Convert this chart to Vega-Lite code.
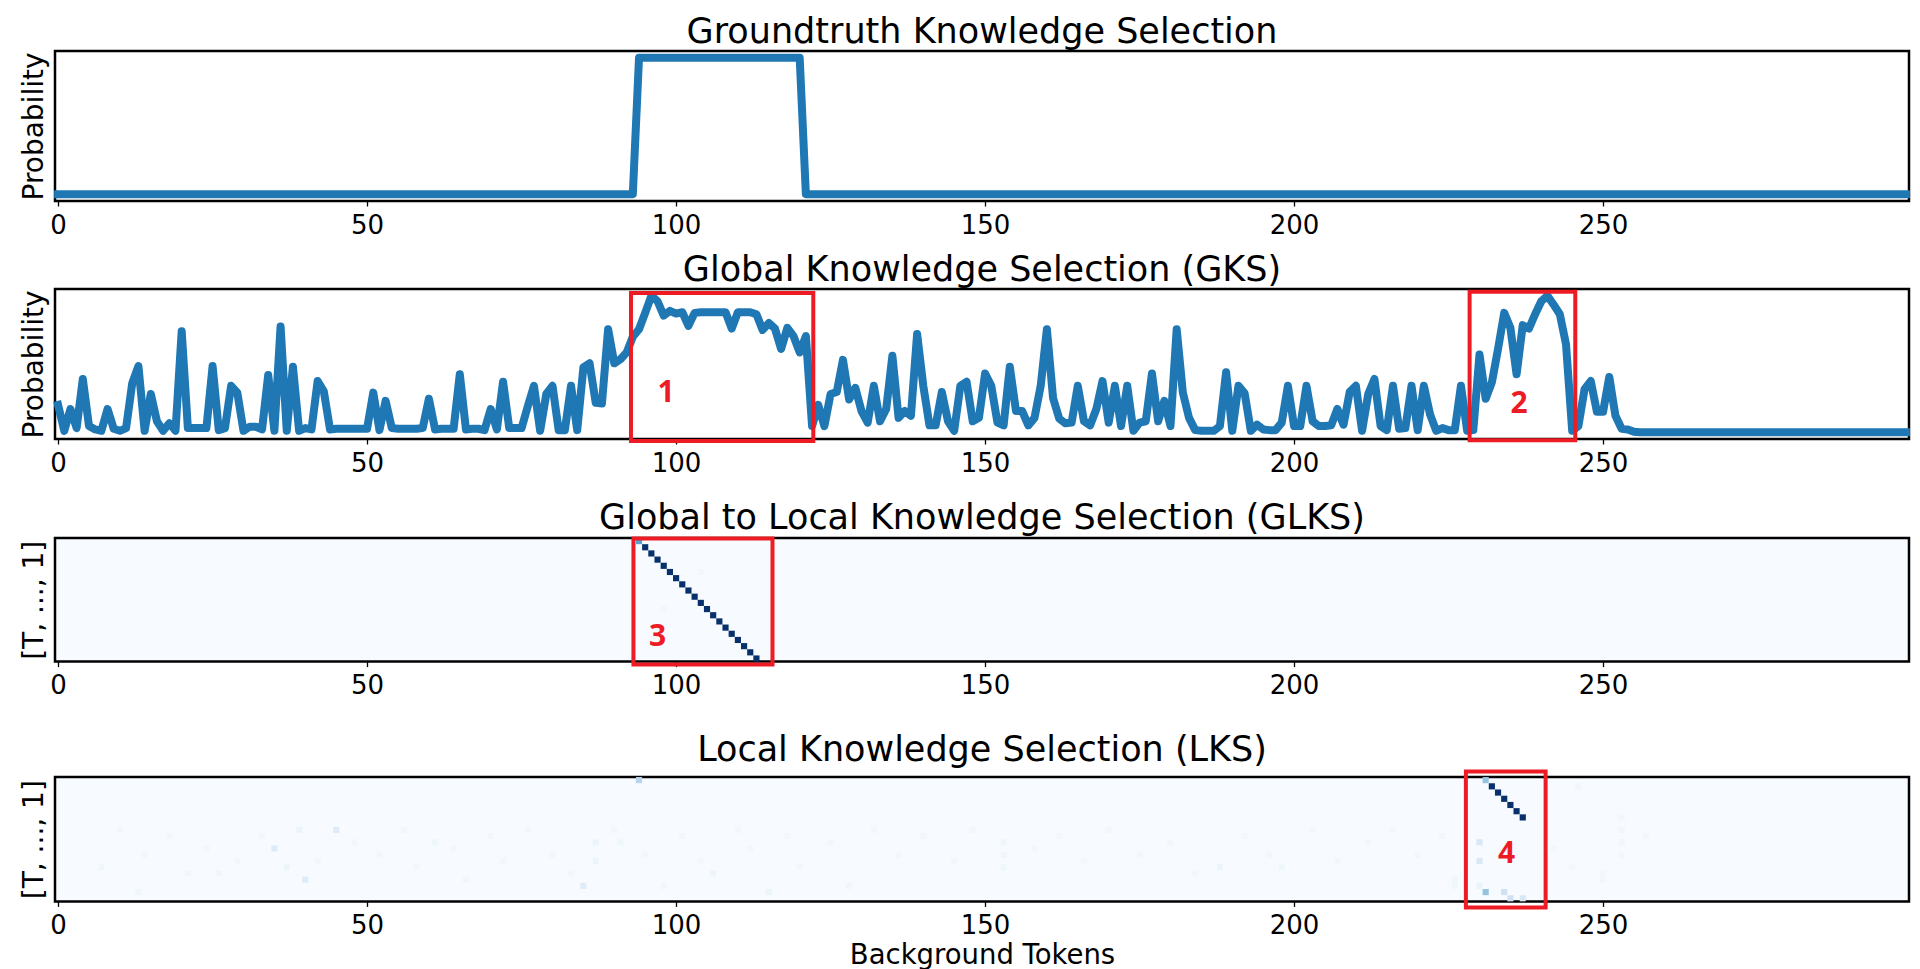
{
  "$schema": "https://vega.github.io/schema/vega-lite/v6.json",
  "padding": {"left": 18, "top": 13, "right": 14, "bottom": 0},
  "spacing": 11,
  "config": {
    "font": "DejaVu Sans",
    "view": {"stroke": "#000000", "strokeWidth": 2.5},
    "title": {"fontSize": 35, "fontWeight": "normal", "color": "#000000", "baseline": "alphabetic", "offset": 0, "dy": 3, "frame": "group", "anchor": "middle", "font": "DejaVu Sans"},
    "axisX": {"format": "d", "labelFontSize": 26, "labelColor": "#000000", "labelFlush": false, "labelPadding": 6, "tickSize": 5, "tickWidth": 1.3, "tickColor": "#000000", "domain": false, "grid": false, "titleFontSize": 27.5, "titleFontWeight": "normal", "titleColor": "#000000", "titlePadding": 0, "labelFont": "DejaVu Sans", "titleFont": "DejaVu Sans"},
    "axisY": {"labels": false, "ticks": false, "domain": false, "grid": false, "titleFontSize": 28, "titleFontWeight": "normal", "titleColor": "#000000", "titlePadding": 7, "titleFont": "DejaVu Sans"}
  },
  "datasets": {
    "gt": [{"t":0,"p":0},{"t":93,"p":0},{"t":94,"p":1},{"t":120,"p":1},{"t":121,"p":0},{"t":299,"p":0}],
    "gks": [
      {"t":0,"p":0.20},{"t":1,"p":0.01},{"t":2,"p":0.17},{"t":3,"p":0.03},{"t":4,"p":0.39},{"t":5,"p":0.045},{"t":6,"p":0.02},{"t":7,"p":0.01},{"t":8,"p":0.17},{"t":9,"p":0.025},
      {"t":10,"p":0.01},{"t":11,"p":0.03},{"t":12,"p":0.36},{"t":13,"p":0.485},{"t":14,"p":0.01},{"t":15,"p":0.28},{"t":16,"p":0.08},{"t":17,"p":0.01},{"t":18,"p":0.065},{"t":19,"p":0.01},
      {"t":20,"p":0.74},{"t":21,"p":0.03},{"t":22,"p":0.03},{"t":23,"p":0.03},{"t":24,"p":0.03},{"t":25,"p":0.485},{"t":26,"p":0.015},{"t":27,"p":0.03},{"t":28,"p":0.34},{"t":29,"p":0.29},
      {"t":30,"p":0.01},{"t":31,"p":0.04},{"t":32,"p":0.04},{"t":33,"p":0.02},{"t":34,"p":0.42},{"t":35,"p":0.01},{"t":36,"p":0.775},{"t":37,"p":0.01},{"t":38,"p":0.48},{"t":39,"p":0.01},
      {"t":40,"p":0.03},{"t":41,"p":0.02},{"t":42,"p":0.375},{"t":43,"p":0.30},{"t":44,"p":0.02},{"t":45,"p":0.025},{"t":46,"p":0.025},{"t":47,"p":0.025},{"t":48,"p":0.025},{"t":49,"p":0.025},
      {"t":50,"p":0.025},{"t":51,"p":0.29},{"t":52,"p":0.015},{"t":53,"p":0.23},{"t":54,"p":0.03},{"t":55,"p":0.025},{"t":56,"p":0.025},{"t":57,"p":0.025},{"t":58,"p":0.025},{"t":59,"p":0.03},
      {"t":60,"p":0.245},{"t":61,"p":0.02},{"t":62,"p":0.025},{"t":63,"p":0.025},{"t":64,"p":0.025},{"t":65,"p":0.425},{"t":66,"p":0.02},{"t":67,"p":0.025},{"t":68,"p":0.025},{"t":69,"p":0.015},
      {"t":70,"p":0.17},{"t":71,"p":0.02},{"t":72,"p":0.37},{"t":73,"p":0.03},{"t":74,"p":0.03},{"t":75,"p":0.03},{"t":76,"p":0.19},{"t":77,"p":0.34},{"t":78,"p":0.01},{"t":79,"p":0.28},
      {"t":80,"p":0.34},{"t":81,"p":0.015},{"t":82,"p":0.015},{"t":83,"p":0.34},{"t":84,"p":0.015},{"t":85,"p":0.475},{"t":86,"p":0.505},{"t":87,"p":0.215},{"t":88,"p":0.21},{"t":89,"p":0.755},
      {"t":90,"p":0.505},{"t":91,"p":0.535},{"t":92,"p":0.585},{"t":93,"p":0.70},{"t":94,"p":0.755},{"t":95,"p":0.875},{"t":96,"p":1.0},{"t":97,"p":0.96},{"t":98,"p":0.855},{"t":99,"p":0.89},
      {"t":100,"p":0.87},{"t":101,"p":0.88},{"t":102,"p":0.78},{"t":103,"p":0.875},{"t":104,"p":0.88},{"t":105,"p":0.88},{"t":106,"p":0.88},{"t":107,"p":0.88},{"t":108,"p":0.88},{"t":109,"p":0.76},
      {"t":110,"p":0.88},{"t":111,"p":0.88},{"t":112,"p":0.88},{"t":113,"p":0.865},{"t":114,"p":0.75},{"t":115,"p":0.80},{"t":116,"p":0.76},{"t":117,"p":0.61},{"t":118,"p":0.765},{"t":119,"p":0.705},
      {"t":120,"p":0.585},{"t":121,"p":0.705},{"t":122,"p":0.045},{"t":123,"p":0.20},{"t":124,"p":0.045},{"t":125,"p":0.28},{"t":126,"p":0.295},{"t":127,"p":0.53},{"t":128,"p":0.24},{"t":129,"p":0.325},
      {"t":130,"p":0.155},{"t":131,"p":0.07},{"t":132,"p":0.34},{"t":133,"p":0.08},{"t":134,"p":0.17},{"t":135,"p":0.56},{"t":136,"p":0.105},{"t":137,"p":0.155},{"t":138,"p":0.12},{"t":139,"p":0.72},
      {"t":140,"p":0.34},{"t":141,"p":0.05},{"t":142,"p":0.05},{"t":143,"p":0.295},{"t":144,"p":0.08},{"t":145,"p":0.01},{"t":146,"p":0.34},{"t":147,"p":0.37},{"t":148,"p":0.08},{"t":149,"p":0.105},
      {"t":150,"p":0.43},{"t":151,"p":0.34},{"t":152,"p":0.07},{"t":153,"p":0.05},{"t":154,"p":0.48},{"t":155,"p":0.155},{"t":156,"p":0.155},{"t":157,"p":0.05},{"t":158,"p":0.105},{"t":159,"p":0.34},
      {"t":160,"p":0.755},{"t":161,"p":0.25},{"t":162,"p":0.10},{"t":163,"p":0.065},{"t":164,"p":0.07},{"t":165,"p":0.34},{"t":166,"p":0.08},{"t":167,"p":0.05},{"t":168,"p":0.17},{"t":169,"p":0.375},
      {"t":170,"p":0.07},{"t":171,"p":0.34},{"t":172,"p":0.045},{"t":173,"p":0.34},{"t":174,"p":0.01},{"t":175,"p":0.07},{"t":176,"p":0.08},{"t":177,"p":0.43},{"t":178,"p":0.08},{"t":179,"p":0.23},
      {"t":180,"p":0.045},{"t":181,"p":0.755},{"t":182,"p":0.29},{"t":183,"p":0.105},{"t":184,"p":0.015},{"t":185,"p":0.01},{"t":186,"p":0.01},{"t":187,"p":0.01},{"t":188,"p":0.045},{"t":189,"p":0.44},
      {"t":190,"p":0.01},{"t":191,"p":0.34},{"t":192,"p":0.285},{"t":193,"p":0.01},{"t":194,"p":0.055},{"t":195,"p":0.02},{"t":196,"p":0.015},{"t":197,"p":0.015},{"t":198,"p":0.07},{"t":199,"p":0.34},
      {"t":200,"p":0.045},{"t":201,"p":0.045},{"t":202,"p":0.34},{"t":203,"p":0.08},{"t":204,"p":0.045},{"t":205,"p":0.045},{"t":206,"p":0.05},{"t":207,"p":0.17},{"t":208,"p":0.055},{"t":209,"p":0.295},
      {"t":210,"p":0.34},{"t":211,"p":0.01},{"t":212,"p":0.28},{"t":213,"p":0.39},{"t":214,"p":0.045},{"t":215,"p":0.015},{"t":216,"p":0.34},{"t":217,"p":0.025},{"t":218,"p":0.03},{"t":219,"p":0.34},
      {"t":220,"p":0.015},{"t":221,"p":0.34},{"t":222,"p":0.13},{"t":223,"p":0.01},{"t":224,"p":0.03},{"t":225,"p":0.015},{"t":226,"p":0.015},{"t":227,"p":0.34},{"t":228,"p":0.01},{"t":229,"p":0.015},
      {"t":230,"p":0.57},{"t":231,"p":0.245},{"t":232,"p":0.365},{"t":233,"p":0.61},{"t":234,"p":0.875},{"t":235,"p":0.765},{"t":236,"p":0.425},{"t":237,"p":0.785},{"t":238,"p":0.76},{"t":239,"p":0.865},
      {"t":240,"p":0.96},{"t":241,"p":1.0},{"t":242,"p":0.935},{"t":243,"p":0.865},{"t":244,"p":0.645},{"t":245,"p":0.01},{"t":246,"p":0.045},{"t":247,"p":0.315},{"t":248,"p":0.375},{"t":249,"p":0.15},
      {"t":250,"p":0.15},{"t":251,"p":0.405},{"t":252,"p":0.12},{"t":253,"p":0.025},{"t":254,"p":0.02},{"t":255,"p":0.003},{"t":256,"p":0.0},{"t":260,"p":0.0},{"t":270,"p":0.0},{"t":280,"p":0.0},{"t":290,"p":0.0},{"t":299,"p":0.0}
    ],
    "glks": [
      {"c":94,"r":0,"v":0.55},{"c":95,"r":1,"v":1},{"c":96,"r":2,"v":1},{"c":97,"r":3,"v":1},{"c":98,"r":4,"v":1},{"c":99,"r":5,"v":1},{"c":100,"r":6,"v":1},{"c":101,"r":7,"v":1},{"c":102,"r":8,"v":1},{"c":103,"r":9,"v":1},
      {"c":104,"r":10,"v":1},{"c":105,"r":11,"v":1},{"c":106,"r":12,"v":1},{"c":107,"r":13,"v":1},{"c":108,"r":14,"v":1},{"c":109,"r":15,"v":1},{"c":110,"r":16,"v":1},{"c":111,"r":17,"v":1},{"c":112,"r":18,"v":1},{"c":113,"r":19,"v":1},
      {"c":104,"r":5,"v":0.03},{"c":98,"r":11,"v":0.03}
    ],
    "lks": [
      {"c":94,"r":0,"v":0.3},
      {"c":231,"r":0,"v":0.4},{"c":232,"r":1,"v":1},{"c":233,"r":2,"v":1},{"c":234,"r":3,"v":1},{"c":235,"r":4,"v":1},{"c":236,"r":5,"v":1},{"c":237,"r":6,"v":1},
      {"c":231,"r":18,"v":0.4},{"c":234,"r":18,"v":0.2},{"c":235,"r":19,"v":0.2},{"c":237,"r":19,"v":0.15},{"c":230,"r":10,"v":0.15},{"c":230,"r":13,"v":0.15},{"c":230,"r":17,"v":0.06},
      {"c":45,"r":8,"v":0.12},{"c":35,"r":11,"v":0.12},{"c":40,"r":16,"v":0.12},{"c":85,"r":17,"v":0.12},
      {"c":7,"r":14,"v":0.04},{"c":13,"r":18,"v":0.04},{"c":21,"r":15,"v":0.04},{"c":26,"r":15,"v":0.04},{"c":39,"r":8,"v":0.05},{"c":37,"r":14,"v":0.05},{"c":61,"r":10,"v":0.04},{"c":66,"r":16,"v":0.04},
      {"c":87,"r":10,"v":0.05},{"c":87,"r":13,"v":0.05},{"c":91,"r":10,"v":0.04},{"c":98,"r":17,"v":0.04},{"c":106,"r":15,"v":0.05},{"c":115,"r":18,"v":0.05},{"c":128,"r":17,"v":0.04},{"c":153,"r":10,"v":0.04},
      {"c":153,"r":12,"v":0.04},{"c":153,"r":14,"v":0.04},{"c":188,"r":14,"v":0.05},{"c":198,"r":14,"v":0.04},{"c":226,"r":16,"v":0.04},{"c":226,"r":17,"v":0.04},{"c":246,"r":1,"v":0.03},{"c":253,"r":6,"v":0.03},
      {"c":253,"r":8,"v":0.03},{"c":253,"r":10,"v":0.03},{"c":253,"r":12,"v":0.03},{"c":250,"r":15,"v":0.03},{"c":250,"r":16,"v":0.03},
      {"c":10,"r":8,"v":0.03},{"c":14,"r":12,"v":0.03},{"c":18,"r":9,"v":0.03},{"c":24,"r":11,"v":0.03},{"c":29,"r":13,"v":0.03},{"c":33,"r":9,"v":0.03},{"c":42,"r":13,"v":0.03},{"c":48,"r":10,"v":0.03},
      {"c":52,"r":12,"v":0.03},{"c":56,"r":8,"v":0.03},{"c":58,"r":14,"v":0.03},{"c":64,"r":11,"v":0.03},{"c":70,"r":9,"v":0.03},{"c":72,"r":13,"v":0.03},{"c":76,"r":8,"v":0.03},{"c":80,"r":12,"v":0.03},
      {"c":83,"r":15,"v":0.03},{"c":90,"r":8,"v":0.03},{"c":95,"r":12,"v":0.03},{"c":101,"r":9,"v":0.03},{"c":104,"r":13,"v":0.03},{"c":110,"r":8,"v":0.03},{"c":112,"r":11,"v":0.03},{"c":118,"r":9,"v":0.03},
      {"c":120,"r":14,"v":0.03},{"c":125,"r":10,"v":0.03},{"c":132,"r":8,"v":0.03},{"c":136,"r":12,"v":0.03},{"c":140,"r":9,"v":0.03},{"c":145,"r":13,"v":0.03},{"c":148,"r":8,"v":0.03},{"c":158,"r":11,"v":0.03},
      {"c":162,"r":9,"v":0.03},{"c":166,"r":13,"v":0.03},{"c":170,"r":8,"v":0.03},{"c":175,"r":12,"v":0.03},{"c":180,"r":10,"v":0.03},{"c":184,"r":15,"v":0.03},{"c":192,"r":9,"v":0.03},{"c":196,"r":12,"v":0.03},
      {"c":203,"r":8,"v":0.03},{"c":207,"r":13,"v":0.03},{"c":212,"r":10,"v":0.03},{"c":216,"r":8,"v":0.03},{"c":220,"r":12,"v":0.03},{"c":224,"r":9,"v":0.03},{"c":242,"r":11,"v":0.03},{"c":245,"r":14,"v":0.03},{"c":257,"r":9,"v":0.03}
    ],
    "box2": [
      {"x1":92.7,"x2":122.2,"y1":-0.065,"y2":1.02,"label":"1","lx":98.4,"ly":0.29},
      {"x1":228.4,"x2":245.5,"y1":-0.06,"y2":1.03,"label":"2","lx":236.4,"ly":0.21}
    ],
    "box3": [{"x1":93.1,"x2":115.6,"y1":-0.4,"y2":19.95,"label":"3","lx":97.0,"ly":15.5}],
    "box4": [{"x1":227.8,"x2":240.7,"y1":-1.4,"y2":20.5,"label":"4","lx":234.4,"ly":11.9}]
  },
  "vconcat": [
    {
      "title": "Groundtruth Knowledge Selection",
      "width": 1854, "height": 150,
      "data": {"name": "gt"},
      "mark": {"type": "line", "color": "#1f77b4", "strokeWidth": 8, "strokeJoin": "round", "strokeCap": "square"},
      "encoding": {
        "x": {"field": "t", "type": "quantitative", "scale": {"domain": [-0.5, 299.5], "nice": false, "zero": false}, "axis": {"values": [0, 50, 100, 150, 200, 250], "title": null}},
        "y": {"field": "p", "type": "quantitative", "scale": {"domain": [-0.05, 1.05], "nice": false, "zero": false}, "title": "Probability"}
      }
    },
    {
      "title": "Global Knowledge Selection (GKS)",
      "width": 1854, "height": 150,
      "layer": [
        {
          "data": {"name": "gks"},
          "mark": {"type": "line", "color": "#1f77b4", "strokeWidth": 8, "strokeJoin": "round", "strokeCap": "square"},
          "encoding": {
            "x": {"field": "t", "type": "quantitative", "scale": {"domain": [-0.5, 299.5], "nice": false, "zero": false}, "title": " ", "axis": {"values": [0, 50, 100, 150, 200, 250], "titleFontSize": 10}},
            "y": {"field": "p", "type": "quantitative", "scale": {"domain": [-0.05, 1.05], "nice": false, "zero": false}, "title": "Probability"}
          }
        },
        {
          "data": {"name": "box2"},
          "mark": {"type": "rect", "fill": "transparent", "stroke": "#ed1c24", "strokeWidth": 4},
          "encoding": {
            "x": {"field": "x1", "type": "quantitative", "title": " "},
            "x2": {"field": "x2"},
            "y": {"field": "y1", "type": "quantitative", "title": "Probability"},
            "y2": {"field": "y2"}
          }
        },
        {
          "data": {"name": "box2"},
          "mark": {"type": "text", "font": "Open Sans", "fontWeight": "bold", "fontSize": 30, "color": "#ed1c24", "align": "center", "baseline": "middle"},
          "encoding": {
            "x": {"field": "lx", "type": "quantitative", "title": " "},
            "y": {"field": "ly", "type": "quantitative", "title": "Probability"},
            "text": {"field": "label"}
          }
        }
      ]
    },
    {
      "title": "Global to Local Knowledge Selection (GLKS)",
      "width": 1854, "height": 123.6,
      "view": {"fill": "#f7fbff"},
      "layer": [
        {
          "data": {"name": "glks"},
          "mark": {"type": "square", "size": 38, "opacity": 1, "filled": true},
          "encoding": {
            "x": {"field": "c", "type": "quantitative", "scale": {"domain": [-0.5, 299.5], "nice": false, "zero": false}, "title": " ", "axis": {"values": [0, 50, 100, 150, 200, 250], "titleFontSize": 22}},
            "y": {"field": "r", "type": "quantitative", "scale": {"domain": [-0.5, 19.5], "nice": false, "zero": false, "reverse": true}, "title": "[T, ..., 1]"},
            "color": {"field": "v", "type": "quantitative", "scale": {"domain": [0, 0.125, 0.25, 0.375, 0.5, 0.625, 0.75, 0.875, 1], "range": ["#f7fbff", "#deebf7", "#c6dbef", "#9ecae1", "#6baed6", "#4292c6", "#2171b5", "#08519c", "#08306b"]}, "legend": null}
          }
        },
        {
          "data": {"name": "box3"},
          "mark": {"type": "rect", "fill": "transparent", "stroke": "#ed1c24", "strokeWidth": 4},
          "encoding": {
            "x": {"field": "x1", "type": "quantitative", "title": " "},
            "x2": {"field": "x2"},
            "y": {"field": "y1", "type": "quantitative", "title": "[T, ..., 1]"},
            "y2": {"field": "y2"}
          }
        },
        {
          "data": {"name": "box3"},
          "mark": {"type": "text", "font": "Open Sans", "fontWeight": "bold", "fontSize": 30, "color": "#ed1c24", "align": "center", "baseline": "middle"},
          "encoding": {
            "x": {"field": "lx", "type": "quantitative", "title": " "},
            "y": {"field": "ly", "type": "quantitative", "title": "[T, ..., 1]"},
            "text": {"field": "label"}
          }
        }
      ]
    },
    {
      "title": "Local Knowledge Selection (LKS)",
      "width": 1854, "height": 124.4,
      "view": {"fill": "#f7fbff"},
      "layer": [
        {
          "data": {"name": "lks"},
          "mark": {"type": "square", "size": 38, "opacity": 1, "filled": true},
          "encoding": {
            "x": {"field": "c", "type": "quantitative", "scale": {"domain": [-0.5, 299.5], "nice": false, "zero": false}, "title": "Background Tokens", "axis": {"values": [0, 50, 100, 150, 200, 250], "titleBaseline": "top", "titlePadding": 3}},
            "y": {"field": "r", "type": "quantitative", "scale": {"domain": [-0.5, 19.5], "nice": false, "zero": false, "reverse": true}, "title": "[T, ..., 1]"},
            "color": {"field": "v", "type": "quantitative", "scale": {"domain": [0, 0.125, 0.25, 0.375, 0.5, 0.625, 0.75, 0.875, 1], "range": ["#f7fbff", "#deebf7", "#c6dbef", "#9ecae1", "#6baed6", "#4292c6", "#2171b5", "#08519c", "#08306b"]}, "legend": null}
          }
        },
        {
          "data": {"name": "box4"},
          "mark": {"type": "rect", "fill": "transparent", "stroke": "#ed1c24", "strokeWidth": 4},
          "encoding": {
            "x": {"field": "x1", "type": "quantitative", "title": "Background Tokens"},
            "x2": {"field": "x2"},
            "y": {"field": "y1", "type": "quantitative", "title": "[T, ..., 1]"},
            "y2": {"field": "y2"}
          }
        },
        {
          "data": {"name": "box4"},
          "mark": {"type": "text", "font": "Open Sans", "fontWeight": "bold", "fontSize": 30, "color": "#ed1c24", "align": "center", "baseline": "middle"},
          "encoding": {
            "x": {"field": "lx", "type": "quantitative", "title": "Background Tokens"},
            "y": {"field": "ly", "type": "quantitative", "title": "[T, ..., 1]"},
            "text": {"field": "label"}
          }
        }
      ]
    }
  ]
}
